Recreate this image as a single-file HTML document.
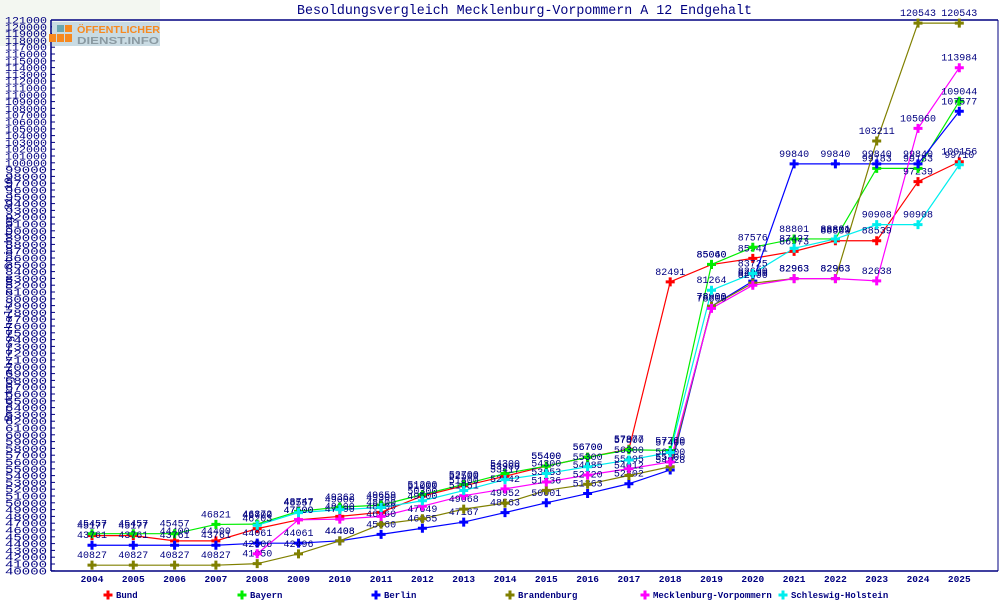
<!DOCTYPE html>
<html><head><meta charset="utf-8"><style>
html,body{margin:0;padding:0;background:#fff;}
svg{display:block;font-family:"Liberation Mono","DejaVu Sans Mono",monospace;}
</style></head><body>
<svg id="s" width="1000" height="600" viewBox="0 0 1000 600" xmlns="http://www.w3.org/2000/svg">
<rect x="0" y="0" width="160" height="46" fill="#f3f7f1"/>
<text x="297" y="14" font-size="13.5" fill="#000080" textLength="455" lengthAdjust="spacingAndGlyphs">Besoldungsvergleich Mecklenburg-Vorpommern A 12 Endgehalt</text>
<g id="g"></g>
<rect x="52" y="22" width="108" height="24" fill="#c9dbe3"/>
<rect x="57" y="25" width="7" height="7" fill="#6aa6b0"/>
<rect x="65" y="25" width="7" height="7" fill="#f7891f"/>
<rect x="49" y="34" width="7" height="8" fill="#f7891f"/>
<rect x="57" y="34" width="7" height="8" fill="#f7891f"/>
<rect x="65" y="34" width="7" height="8" fill="#f7891f"/>
<text x="77" y="33" font-family="Liberation Sans,sans-serif" font-weight="bold" font-size="10" fill="#f7891f" textLength="83" lengthAdjust="spacingAndGlyphs">ÖFFENTLICHER</text>
<text x="77" y="44" font-family="Liberation Sans,sans-serif" font-weight="bold" font-size="10" fill="#8a9aa2" textLength="82" lengthAdjust="spacingAndGlyphs">DIENST.INFO</text>
<text transform="translate(12,296) rotate(-90)" text-anchor="middle" font-size="11" fill="#000080">Bruttojahresgehalt zum Stichtag 31.10.</text>
</svg>
<script>
var NS="http://www.w3.org/2000/svg",g=document.getElementById('g');
function el(t,a,txt){var e=document.createElementNS(NS,t);for(var k in a)e.setAttribute(k,a[k]);if(txt!=null)e.textContent=txt;g.appendChild(e);return e;}
function Y(v){return 20+(121000-v)/1000*6.8;}
function X(i){return 92+i*41.3;}
var N="#000080";
el('line',{x1:51,y1:20,x2:998,y2:20,stroke:N,'stroke-width':1.5});
el('line',{x1:998,y1:20,x2:998,y2:571,stroke:N,'stroke-width':1});
el('line',{x1:51,y1:20,x2:51,y2:571,stroke:N,'stroke-width':1.5});
el('line',{x1:51,y1:571,x2:998,y2:571,stroke:N,'stroke-width':1.5});
for(var v=40000;v<=121000;v+=1000){var y=Y(v);el('line',{x1:51,y1:y,x2:55,y2:y,stroke:N});
el('text',{x:47,y:y+3.5,'text-anchor':'end','font-size':10,fill:N,textLength:42,lengthAdjust:'spacingAndGlyphs'},String(v));}
for(var i=0;i<22;i++){el('text',{x:X(i),y:582,'text-anchor':'middle','font-size':9.5,'font-weight':'bold',fill:N},String(2004+i));}
var S=[
["Bund","#ff0000",[45177,45177,44400,44400,46203,47500,48000,48600,51000,52500,53900,55400,56700,57877,82491,85040,85941,86973,88539,88539,97239,100156]],
["Bayern","#00ee00",[45457,45457,45457,46821,46872,48747,49362,49659,51200,52700,54300,55400,56700,57800,57700,85060,87576,88801,88801,99183,99183,109044]],
["Berlin","#0000ff",[43761,43761,43761,43761,44061,44061,44408,45360,46255,47167,48563,50001,51363,52802,54828,78900,82600,99840,99840,99840,99840,107577]],
["Brandenburg","#808000",[40827,40827,40827,40827,41050,42496,44408,46860,47649,49068,49952,51836,52720,54012,55300,78900,82300,82963,82963,103211,120543,120543]],
["Mecklenburg-Vorpommern","#ff00ff",[null,null,null,null,42506,47500,47600,48000,49500,51051,52042,53053,54085,55005,56000,78600,82000,82963,82963,82638,105060,113984]],
["Schleswig-Holstein","#00eeee",[null,null,null,null,46700,48557,49000,49300,50300,51800,53417,54300,55300,56300,57400,81264,83725,87427,88801,90908,90908,99710]]];
function mk(x,y,c){el('path',{d:"M"+(x-1.5)+" "+(y-4.5)+"h3v3h3v3h-3v3h-3v-3h-3v-3h3z",fill:c});}
S.forEach(function(s){var p=[];s[2].forEach(function(v,i){if(v!=null)p.push(X(i)+","+Y(v));});
el('polyline',{points:p.join(" "),fill:"none",stroke:s[1],'stroke-width':1.2});});
S.forEach(function(s){s[2].forEach(function(v,i){if(v==null)return;mk(X(i),Y(v),s[1]);
el('text',{x:X(i),y:Y(v)-7,'text-anchor':'middle','font-size':10,fill:N},String(v));});});
var lx=[108,242,376,510,645,783];
S.forEach(function(s,i){mk(lx[i],595,s[1]);el('text',{x:lx[i]+8,y:598,'font-size':9,'font-weight':'bold',fill:N},s[0]);});
</script>
</body></html>
